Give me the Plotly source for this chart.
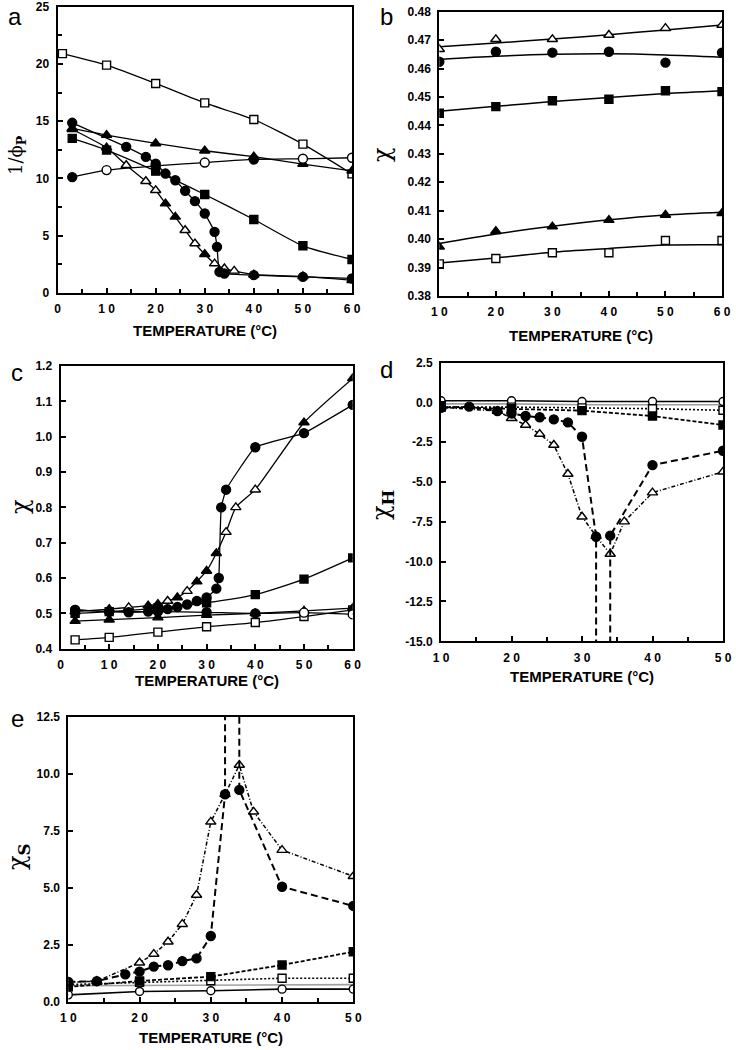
import plotly.graph_objects as go

W, H = 736, 1050

# ---------------- Panel a: 1/phi_P vs T ----------------
a_osq_x = [1, 10, 20, 30, 40, 50, 60]
a_osq_y = [20.9, 19.9, 18.3, 16.6, 15.15, 13.0, 10.4]
a_ftri_x = [3, 10, 20, 30, 40, 50, 60]
a_ftri_y = [14.37, 13.79, 13.06, 12.42, 11.9, 11.26, 10.66]
a_ocir_x = [3, 10, 20, 30, 40, 50, 60]
a_ocir_y = [10.12, 10.73, 11.1, 11.39, 11.66, 11.72, 11.81]
a_ocir_fill = [1, 0, 0, 0, 1, 0, 0]
a_fsq_x = [3, 10, 20, 30, 40, 50, 60]
a_fsq_y = [13.5, 12.48, 10.64, 8.6, 6.42, 4.12, 2.93]
a_fcir_x = [3, 14, 18, 20, 22, 24, 26, 28, 30, 32, 32.5, 33, 34, 40, 50, 60]
a_fcir_y = [14.86, 12.76, 11.89, 11.3, 10.43, 9.85, 8.92, 8.02, 6.94, 5.34, 4.03, 1.84, 1.7, 1.56, 1.41, 1.27]
a_otri_x = [3, 10, 14, 18, 20, 22, 24, 26, 28, 30, 32, 34, 36, 40, 50, 60]
a_otri_y = [14.3, 12.7, 11.16, 9.76, 8.97, 7.81, 6.65, 5.48, 4.32, 3.39, 2.57, 2.14, 1.93, 1.6, 1.45, 1.11]
a_otri_fill = [1, 1, 0, 0, 0, 1, 1, 0, 0, 1, 0, 0, 0, 1, 1, 1]

# ---------------- Panel b: chi vs T (points + fitted curves) ----------------
b_x = [10, 20, 30, 40, 50, 60]
b_otri_y = [0.4668, 0.4703, 0.4703, 0.4718, 0.4742, 0.4753]
b_otri_fit = [0.4677, 0.4690, 0.4704, 0.4719, 0.4736, 0.4753]
b_fcir_y = [0.4624, 0.4659, 0.4656, 0.4659, 0.4621, 0.4656]
b_fcir_fit = [0.4632, 0.4643, 0.4650, 0.4652, 0.4648, 0.4640]
b_fsq_y = [0.4443, 0.4466, 0.4487, 0.4492, 0.4522, 0.4519]
b_fsq_fit = [0.4450, 0.4467, 0.4484, 0.4498, 0.4512, 0.4522]
b_ftri_y = [0.3973, 0.4028, 0.4044, 0.4067, 0.4085, 0.4091]
b_ftri_fit = [0.3985, 0.4018, 0.4045, 0.4068, 0.4085, 0.4095]
b_osq_y = [0.3913, 0.3932, 0.3952, 0.3952, 0.3995, 0.3995]
b_osq_fit = [0.3916, 0.3934, 0.3954, 0.3967, 0.3979, 0.3980]

# ---------------- Panel c: chi vs T ----------------
c_osq_x = [3, 10, 20, 30, 40, 50, 60]
c_osq_y = [0.425, 0.432, 0.447, 0.462, 0.474, 0.491, 0.51]
c_ftri_x = [3, 10, 20, 30, 40, 50, 60]
c_ftri_y = [0.478, 0.482, 0.488, 0.495, 0.50, 0.507, 0.515]
c_ocir_x = [3, 10, 20, 30, 40, 50, 60]
c_ocir_y = [0.51, 0.505, 0.505, 0.503, 0.50, 0.502, 0.497]
c_ocir_fill = [1, 1, 1, 1, 1, 0, 0]
c_fsq_x = [3, 10, 20, 30, 40, 50, 60]
c_fsq_y = [0.50, 0.505, 0.515, 0.53, 0.553, 0.597, 0.657]
c_fcir_x = [3, 10, 14, 18, 20, 22, 24, 26, 28, 30, 32, 32.5, 33, 34, 40, 50, 60]
c_fcir_y = [0.51, 0.505, 0.503, 0.505, 0.508, 0.512, 0.518, 0.525, 0.535, 0.545, 0.57, 0.60, 0.80, 0.85, 0.97, 1.01, 1.09]
c_otri_x = [3, 10, 14, 18, 20, 22, 24, 26, 28, 30, 32, 34, 36, 40, 50, 60]
c_otri_y = [0.505, 0.512, 0.517, 0.522, 0.526, 0.535, 0.545, 0.563, 0.59, 0.62, 0.67, 0.73, 0.80, 0.85, 1.04, 1.165]
c_otri_fill = [1, 1, 0, 1, 1, 0, 1, 0, 1, 1, 1, 0, 0, 0, 1, 1]

# ---------------- Panel d: chi_H vs T ----------------
d_x5 = [10, 20, 30, 40, 50]
d_ocir_y = [0.1, 0.1, 0.05, 0.05, 0.05]
d_gray_y = [-0.1, -0.1, -0.15, -0.15, -0.15]
d_osq_y = [-0.3, -0.3, -0.35, -0.4, -0.5]
d_fsq_y = [-0.3, -0.4, -0.52, -0.86, -1.42]
d_fcir_x = [10, 14, 18, 20, 22, 24, 26, 28, 30, 32, 34, 40, 50]
d_fcir_y = [-0.35, -0.27, -0.55, -0.7, -0.86, -0.94, -1.07, -1.26, -2.16, -8.44, -8.37, -3.94, -3.04]
d_otri_x = [10, 18, 20, 22, 24, 26, 28, 30, 32, 34, 36, 40, 50]
d_otri_y = [-0.3, -0.55, -1.0, -1.42, -1.99, -2.68, -4.5, -7.18, -8.4, -9.52, -7.49, -5.67, -4.36]

# ---------------- Panel e: chi_S vs T ----------------
e_x5 = [10, 20, 30, 40, 50]
e_ocir_y = [0.3, 0.45, 0.48, 0.55, 0.55]
e_gray_y = [0.7, 0.72, 0.73, 0.73, 0.75]
e_osq_y = [0.75, 0.85, 0.92, 1.03, 1.03]
e_fsq_y = [0.65, 0.91, 1.1, 1.61, 2.19]
e_fcir_x = [10, 14, 18, 20, 22, 24, 26, 28, 30, 32, 34, 40, 50]
e_fcir_y = [0.87, 0.9, 1.2, 1.32, 1.54, 1.6, 1.78, 1.9, 2.88, 9.1, 9.29, 5.04, 4.2]
e_otri_x = [10, 14, 20, 22, 24, 26, 28, 30, 32, 34, 36, 40, 50]
e_otri_y = [0.85, 0.9, 1.71, 2.09, 2.63, 3.4, 4.68, 7.89, 9.1, 10.38, 8.33, 6.65, 5.5]

# divergence of the filled-circle series near the LCST (drawn off-scale)
T_DIV = [32, 34]
D_DIV = -40
E_DIV = 40

# tick labels
x_ticks_60 = [0, 10, 20, 30, 40, 50, 60]
x_text_60 = ["0", "1 0", "2 0", "3 0", "4 0", "5 0", "6 0"]
x_ticks_b = [10, 20, 30, 40, 50, 60]
x_text_b = ["1 0", "2 0", "3 0", "4 0", "5 0", "6 0"]
x_ticks_50 = [10, 20, 30, 40, 50]
x_text_50 = ["1 0", "2 0", "3 0", "4 0", "5 0"]
a_yticks = [0, 5, 10, 15, 20, 25]
a_ytext = ["0", "5", "10", "15", "20", "25"]
b_yticks = [0.38, 0.39, 0.40, 0.41, 0.42, 0.43, 0.44, 0.45, 0.46, 0.47, 0.48]
b_ytext = ["0.38", "0.39", "0.40", "0.41", "0.42", "0.43", "0.44", "0.45", "0.46", "0.47", "0.48"]
c_yticks = [0.4, 0.5, 0.6, 0.7, 0.8, 0.9, 1.0, 1.1, 1.2]
c_ytext = ["0.4", "0.5", "0.6", "0.7", "0.8", "0.9", "1.0", "1.1", "1.2"]
d_yticks = [2.5, 0, -2.5, -5, -7.5, -10, -12.5, -15]
d_ytext = ["2.5", "0.0", "-2.5", "-5.0", "-7.5", "-10.0", "-12.5", "-15.0"]
e_yticks = [0, 2.5, 5, 7.5, 10, 12.5]
e_ytext = ["0.0", "2.5", "5.0", "7.5", "10.0", "12.5"]

fig = go.Figure()

BLACK = "black"
TICKFONT = dict(family="Liberation Sans, Arial, sans-serif", size=12, color=BLACK, weight="bold")


def axn(n):
    return "" if n == 1 else str(n)


def add_line(x, y, ax, shape="linear", smooth=0.0, dash="solid", lw=1.3, color=BLACK):
    line = dict(color=color, width=lw, dash=dash, shape=shape)
    if shape == "spline":
        line["smoothing"] = smooth
    fig.add_trace(go.Scatter(x=x, y=y, mode="lines", line=line, xaxis="x" + ax,
                             yaxis="y" + ax, showlegend=False, connectgaps=False,
                             hoverinfo="skip"))


def add_pts(x, y, ax, sym, fill, size=8):
    if isinstance(fill, (list, tuple)):
        col = [BLACK if f else "white" for f in fill]
    else:
        col = BLACK if fill else "white"
    fig.add_trace(go.Scatter(x=x, y=y, mode="markers", xaxis="x" + ax, yaxis="y" + ax,
                             showlegend=False, cliponaxis=True,
                             marker=dict(symbol=sym, size=size, color=col, opacity=1,
                                         line=dict(color=BLACK, width=1.4))))


def series(x, y, ax, sym, fill, size=8, **kw):
    add_line(x, y, ax, **kw)
    add_pts(x, y, ax, sym, fill, size)


CIR, SQ, TRI = 9, 8, 9

# Panel a
pa = axn(1)
series(a_osq_x, a_osq_y, pa, "square", False, SQ, shape="spline", smooth=0.6)
series(a_ftri_x, a_ftri_y, pa, "triangle-up", True, TRI, shape="spline", smooth=0.6)
series(a_ocir_x, a_ocir_y, pa, "circle", a_ocir_fill, CIR, shape="spline", smooth=0.6)
series(a_fsq_x, a_fsq_y, pa, "square", True, SQ, shape="spline", smooth=0.6)
series(a_otri_x, a_otri_y, pa, "triangle-up", a_otri_fill, TRI, shape="spline", smooth=0.4)
series(a_fcir_x, a_fcir_y, pa, "circle", True, CIR, shape="spline", smooth=0.4)

# Panel b: fitted curves + points
pb = axn(2)
for pts, fit, sym, filled, sz in [
    (b_otri_y, b_otri_fit, "triangle-up", False, TRI),
    (b_fcir_y, b_fcir_fit, "circle", True, CIR),
    (b_fsq_y, b_fsq_fit, "square", True, SQ),
    (b_ftri_y, b_ftri_fit, "triangle-up", True, TRI),
    (b_osq_y, b_osq_fit, "square", False, SQ),
]:
    add_line(b_x, fit, pb, shape="spline", smooth=0.8, lw=1.5)
    add_pts(b_x, pts, pb, sym, filled, sz)

# Panel c
pc = axn(3)
series(c_osq_x, c_osq_y, pc, "square", False, SQ, shape="spline", smooth=0.6)
series(c_ftri_x, c_ftri_y, pc, "triangle-up", True, TRI, shape="spline", smooth=0.6)
series(c_ocir_x, c_ocir_y, pc, "circle", c_ocir_fill, CIR, shape="spline", smooth=0.6)
series(c_fsq_x, c_fsq_y, pc, "square", True, SQ, shape="spline", smooth=0.6)
series(c_otri_x, c_otri_y, pc, "triangle-up", c_otri_fill, TRI, shape="spline", smooth=0.5)
series(c_fcir_x, c_fcir_y, pc, "circle", True, CIR, shape="spline", smooth=0.3)


def diverge(xs, ys, tdiv, far):
    """path of the filled-circle series including its off-scale branches at T_DIV"""
    ox, oy = [], []
    for xv, yv in zip(xs, ys):
        if xv == tdiv[1]:
            ox += [tdiv[0], None, tdiv[1]]
            oy += [far, None, far]
        ox.append(xv)
        oy.append(yv)
    return ox, oy


# Panel d
pd_ = axn(4)
add_line(d_x5, d_gray_y, pd_, lw=1.6, color="#a0a0a0")
series(d_x5, d_ocir_y, pd_, "circle", False, 8, lw=1.6)
series(d_x5, d_osq_y, pd_, "square", False, SQ, dash="2px,2px", lw=1.6)
series(d_x5, d_fsq_y, pd_, "square", True, SQ, dash="4px,2px", lw=1.8)
series(d_otri_x, d_otri_y, pd_, "triangle-up", False, TRI, dash="4px,2px,1px,2px", lw=1.5)
dx, dy = diverge(d_fcir_x, d_fcir_y, T_DIV, D_DIV)
add_line(dx, dy, pd_, dash="7px,4px", lw=2)
add_pts(d_fcir_x, d_fcir_y, pd_, "circle", True, CIR)

# Panel e
pe = axn(5)
add_line(e_x5, e_gray_y, pe, lw=1.6, color="#a0a0a0")
series(e_x5, e_ocir_y, pe, "circle", False, 8, lw=1.6)
series(e_x5, e_osq_y, pe, "square", False, SQ, dash="2px,2px", lw=1.6)
series(e_x5, e_fsq_y, pe, "square", True, SQ, dash="4px,2px", lw=1.8)
series(e_otri_x, e_otri_y, pe, "triangle-up", False, TRI, dash="4px,2px,1px,2px", lw=1.5)
ex, ey = diverge(e_fcir_x, e_fcir_y, T_DIV, E_DIV)
add_line(ex, ey, pe, dash="7px,4px", lw=2)
add_pts(e_fcir_x, e_fcir_y, pe, "circle", True, CIR)


def px(v):
    return v / W


def py(v):
    return 1 - v / H


frames = {
    1: (57.5, 352.0, 6.7, 293.0),
    2: (439.3, 722.0, 11.7, 296.0),
    3: (60.5, 352.7, 366.0, 648.7),
    4: (441.0, 723.0, 362.5, 641.3),
    5: (68.3, 353.3, 716.7, 1001.7),
}

axcommon = dict(showline=True, linecolor=BLACK, linewidth=2, mirror=True, ticks="inside",
                ticklen=5, tickwidth=1.5, tickcolor=BLACK, showgrid=False, zeroline=False,
                tickfont=TICKFONT, ticklabelstandoff=4, fixedrange=True, automargin=False,
                ticklabeloverflow="allow")

xcfg = {
    1: dict(range=[0, 60], tickvals=x_ticks_60, ticktext=x_text_60),
    2: dict(range=[10, 60], tickvals=x_ticks_b, ticktext=x_text_b),
    3: dict(range=[0, 60], tickvals=x_ticks_60, ticktext=x_text_60),
    4: dict(range=[10, 50], tickvals=x_ticks_50, ticktext=x_text_50),
    5: dict(range=[10, 50], tickvals=x_ticks_50, ticktext=x_text_50),
}
ycfg = {
    1: dict(range=[0, 25], tickvals=a_yticks, ticktext=a_ytext,
            minor=dict(dtick=2.5, ticks="inside", ticklen=4, tickcolor=BLACK)),
    2: dict(range=[0.38, 0.48], tickvals=b_yticks, ticktext=b_ytext),
    3: dict(range=[0.4, 1.2], tickvals=c_yticks, ticktext=c_ytext),
    4: dict(range=[-15, 2.5], tickvals=d_yticks, ticktext=d_ytext),
    5: dict(range=[0, 12.5], tickvals=e_yticks, ticktext=e_ytext),
}

layout = dict(width=W, height=H, autosize=False,
              margin=dict(l=0, r=0, t=0, b=0, pad=0, autoexpand=False),
              paper_bgcolor="white", plot_bgcolor="white", showlegend=False)
for n, (l, r, t, b) in frames.items():
    s = axn(n)
    layout["xaxis" + s] = dict(domain=[px(l), px(r)], anchor="y" + s,
                               minor=dict(dtick=5, ticks="inside", ticklen=4, tickcolor=BLACK),
                               **xcfg[n], **axcommon)
    layout["yaxis" + s] = dict(domain=[py(b), py(t)], anchor="x" + s, **ycfg[n], **axcommon)
fig.update_layout(**layout)

anns = []
TITLEFONT = dict(family="Liberation Sans, Arial, sans-serif", size=15, color=BLACK, weight="bold")
for n, ypix in [(1, 330), (2, 335), (3, 680), (4, 676), (5, 1037)]:
    l, r, t, b = frames[n]
    anns.append(dict(x=px((l + r) / 2), y=py(ypix), xref="paper", yref="paper",
                     text="TEMPERATURE (°C)", showarrow=False, font=TITLEFONT,
                     xanchor="center", yanchor="middle"))
LETTERFONT = dict(family="Liberation Sans, Arial, sans-serif", size=24, color=BLACK)
for txt, xx, yy in [("a", 15, 16), ("b", 386, 16), ("c", 17, 372), ("d", 386, 369), ("e", 17, 718)]:
    anns.append(dict(x=px(xx), y=py(yy), xref="paper", yref="paper", text=txt, showarrow=False,
                     font=LETTERFONT, xanchor="center", yanchor="middle"))
SERIF = dict(family="DejaVu Serif, Liberation Serif, serif", size=22, color=BLACK)
for txt, xx, yy, fs in [("1/ϕ<sub><b>P</b></sub>", 17, 155, 18), ("χ", 382, 155, 24),
                        ("χ", 20, 507, 24), ("χ<sub><b>H</b></sub>", 382, 505, 24),
                        ("χ<sub><b>S</b></sub>", 18, 857, 24)]:
    f = dict(SERIF)
    f["size"] = fs
    anns.append(dict(x=px(xx), y=py(yy), xref="paper", yref="paper", text=txt, showarrow=False,
                     font=f, textangle=-90, xanchor="center", yanchor="middle"))
fig.update_layout(annotations=anns)

fig.write_html("out.html", config={"displayModeBar": False},
               post_script="document.body.style.margin='0px';document.body.style.overflow='hidden';")
